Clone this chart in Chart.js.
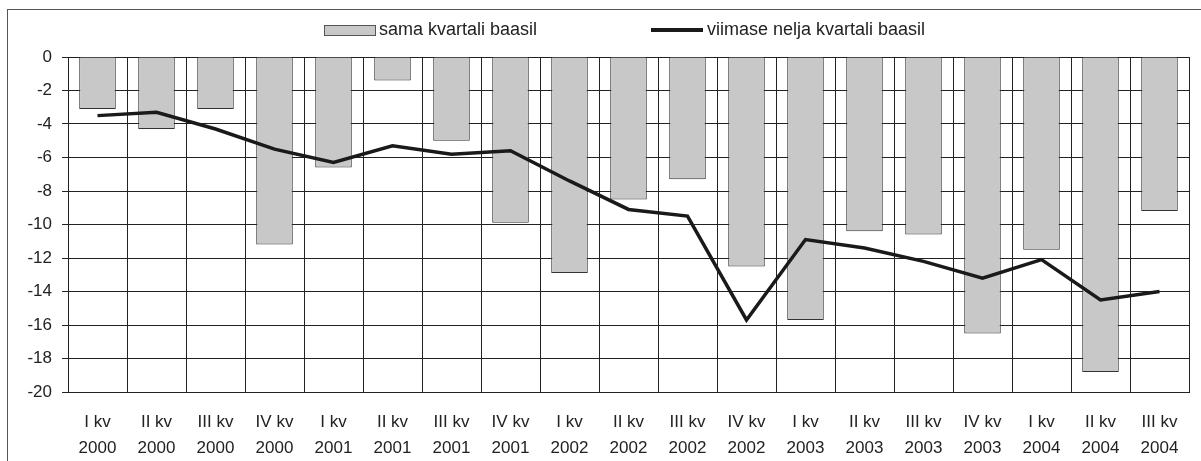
<!DOCTYPE html>
<html>
<head>
<meta charset="utf-8">
<script src="https://cdn.jsdelivr.net/npm/chart.js@4/dist/chart.umd.min.js"></script>
<style>
  html, body { margin: 0; padding: 0; background: #fff; overflow: hidden; }
  body { width: 1201px; height: 461px; position: relative; font-family: 'Liberation Sans', Arial, sans-serif; }
  #frame { position: absolute; left: 7px; top: 9px; width: 1400px; height: 600px; border-top: 1px solid #555; border-left: 1px solid #555; }
  #wrap { position: absolute; left: 0; top: 0; width: 1201px; height: 461px; }
  .mark { position: absolute; }
  .txt { position: absolute; top: 20px; font-size: 18px; line-height: 18px; color: #222; white-space: nowrap; }
</style>
</head>
<body>
<div id="frame"></div>
<div id="wrap"><canvas id="chart" width="1201" height="461"></canvas></div>
<div class="mark" style="left:324px;top:25px;width:50px;height:9px;background:#c8c8c8;border:1px solid #555"></div>
<div class="txt" style="left:379px">sama kvartali baasil</div>
<div class="mark" style="left:651px;top:28px;width:52px;height:4px;background:#1a1a1a"></div>
<div class="txt" style="left:707px">viimase nelja kvartali baasil</div>
<script>
const quarters = ['I kv', 'II kv', 'III kv', 'IV kv', 'I kv', 'II kv', 'III kv', 'IV kv',
    'I kv', 'II kv', 'III kv', 'IV kv', 'I kv', 'II kv', 'III kv', 'IV kv', 'I kv', 'II kv', 'III kv'];
const years = ['2000', '2000', '2000', '2000', '2001', '2001', '2001', '2001',
    '2002', '2002', '2002', '2002', '2003', '2003', '2003', '2003', '2004', '2004', '2004'];

const samaKvartali = [-3.1, -4.3, -3.1, -11.2, -6.6, -1.4, -5.0, -9.9,
    -12.9, -8.5, -7.3, -12.5, -15.7, -10.4, -10.6, -16.5, -11.5, -18.8, -9.2];
const viimaseNelja = [-3.5, -3.3, -4.3, -5.5, -6.3, -5.3, -5.8, -5.6,
    -7.4, -9.1, -9.5, -15.7, -10.9, -11.4, -12.2, -13.2, -12.1, -14.5, -14.0];

const yTicks = [0, -2, -4, -6, -8, -10, -12, -14, -16, -18, -20];

const labels = quarters.map((q, i) => [q, years[i]]);
const font = { family: "'Liberation Sans', Arial, sans-serif", size: 17 };

const data = {
    labels: labels,
    datasets: [{
        type: 'line',
        label: 'viimase nelja kvartali baasil',
        data: viimaseNelja,
        borderColor: '#1a1a1a',
        borderWidth: 3.5,
        pointRadius: 0,
        tension: 0,
        order: 0
    }, {
        type: 'bar',
        label: 'sama kvartali baasil',
        data: samaKvartali,
        backgroundColor: '#c8c8c8',
        borderColor: '#333',
        borderWidth: 1,
        barPercentage: 0.62,
        categoryPercentage: 1,
        order: 1
    }]
};

const config = {
    type: 'bar',
    data: data,
    options: {
        responsive: false,
        animation: false,
        layout: { padding: { top: 57, right: 12, bottom: 0, left: 0 } },
        plugins: { legend: { display: false }, tooltip: { enabled: false } },
        scales: {
            x: {
                grid: { color: '#222', lineWidth: 1, drawTicks: false, offset: true },
                border: { color: '#222' },
                ticks: {
                    color: '#222',
                    font: Object.assign({ lineHeight: 1.5 }, font),
                    padding: 18,
                    maxRotation: 0,
                    autoSkip: false
                },
                afterFit: (scale) => { scale.height = 69; }
            },
            y: {
                min: -20,
                max: 0,
                grid: { color: '#222', lineWidth: 1, tickLength: 6 },
                border: { color: '#222' },
                afterBuildTicks: (scale) => { scale.ticks = yTicks.map(v => ({ value: v })); },
                ticks: { color: '#222', font: font, padding: 10 },
                afterFit: (scale) => { scale.width = 68; }
            }
        }
    }
};

// eslint-disable-next-line
const chart = new Chart(document.querySelector('#chart'), config);
</script>
</body>
</html>
